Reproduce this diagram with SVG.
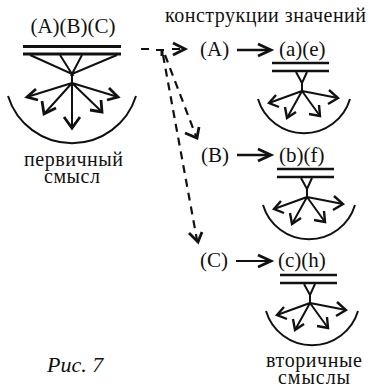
<svg xmlns="http://www.w3.org/2000/svg" width="370" height="388" viewBox="0 0 370 388">
<style>
text{font-family:"Liberation Serif","Times New Roman",serif;fill:#111}
.l{font-size:21px}.m{font-size:21px}.n{font-size:20px}
.s{fill:none;stroke:#111;stroke-width:2}
.b{fill:none;stroke:#111;stroke-width:3}
.d{fill:none;stroke:#111;stroke-width:2.2;stroke-dasharray:8 6}
.h{fill:none;stroke:#111;stroke-width:2.8}
</style>
<defs>
<g id="small">
<path class="b" d="M272 63H329M272 71H329" style="stroke-width:2.6"/>
<path class="s" d="M296 72L302 83L307 72M302 83V91"/>
<path class="s" style="stroke-width:2" d="M302 91L269 103M302 91L287 118M302 91L320 116M302 91L338 98"/>
<path class="h" style="stroke-width:2.4" d="M276 95L269 103L279 107M285 107L287 118L296 112M319 105L320 116L309 114M329 90L338 98L328 104"/>
<path class="s" d="M258 99A48 48 0 0 0 350 99"/>
</g>
</defs>
<g id="node-primary">
<text class="l" x="73" y="33" text-anchor="middle">(A)(B)(C)</text>
<path class="b" d="M23 46.5H121M23 54H121"/>
<path class="s" d="M30 55L72 74L60 55M82 55L72 74L117 55M72 74V83"/>
<path class="s" d="M72 83L27 97M72 83L44 114M72 83V128M72 83L102 112M72 83L118 97"/>
<path class="h" d="M36 89L27 97L38 100M42 101L44 114L56 108M64 117L72 128L80 117M101 100L102 112L90 110M109 88L118 97L107 100"/>
<path class="s" d="M8 96A67 67 0 0 0 136 96"/>
<text class="n" x="24" y="166" textLength="99">первичный</text>
<text class="n" x="44" y="183" textLength="56">смысл</text>
</g>
<g id="connectors">
<path class="d" d="M141 49H150M156 50H167M172 49H184"/>
<path class="s" style="stroke-width:3" d="M162 50V56"/>
<path class="h" d="M173 43L185 49L173 55"/>
<path class="d" d="M165 55L196 136"/>
<path class="h" d="M185 133L197 138L199 127"/>
<path class="d" d="M163 55L197 240"/>
<path class="h" d="M189 233L198 242L202 232"/>
<path class="s" style="stroke-width:2.6" d="M237 50H270"/><path class="h" d="M258 44L271 50L258 56"/>
<path class="s" style="stroke-width:2.6" d="M237 155H270"/><path class="h" d="M258 149L271 155L258 161"/>
<path class="s" style="stroke-width:2.2" d="M236 261H270"/><path class="h" d="M258 255L271 261L258 267"/>
</g>
<g id="node-title"><text class="n" x="165" y="22" textLength="201">конструкции значений</text></g>
<g id="node-a"><text class="l" x="200" y="56">(A)</text><text class="m" x="279" y="56">(a)(e)</text><use href="#small"/></g>
<g id="node-b"><text class="l" x="201" y="162">(B)</text><text class="m" x="279" y="162">(b)(f)</text><use href="#small" transform="translate(5 106)"/></g>
<g id="node-c"><text class="l" x="200" y="267">(C)</text><text class="m" x="278" y="267">(c)(h)</text><use href="#small" transform="translate(8 212)"/></g>
<g id="node-secondary">
<text class="n" x="266" y="367" textLength="96">вторичные</text>
<text class="n" x="278" y="383.5" textLength="72">смыслы</text>
</g>
<g id="caption"><text x="47" y="372" style="font-size:22px;font-style:italic">Рис. 7</text></g>
</svg>
